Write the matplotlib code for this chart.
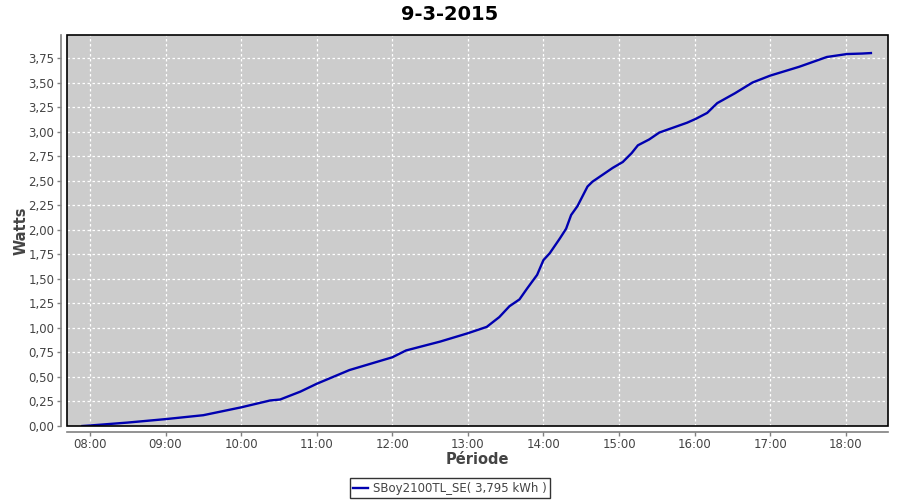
import numpy as np
import matplotlib
matplotlib.use("Agg")
import matplotlib.pyplot as plt
from matplotlib.patches import Rectangle
from matplotlib.ticker import FuncFormatter, FixedLocator

title = "9-3-2015"
series_name = "SBoy2100TL_SE( 3,795 kWh )"

# time of day (HH:MM) and cumulative production
times = ["07:54", "08:00", "08:30", "09:00", "09:30", "10:00", "10:23", "10:31",
         "10:47", "11:00", "11:26", "12:00", "12:11", "12:38", "13:00", "13:15",
         "13:25", "13:33", "13:41", "13:47", "13:55", "14:00", "14:05", "14:13",
         "14:18", "14:22", "14:27", "14:35", "14:39", "14:47", "14:55", "15:03",
         "15:10", "15:15", "15:24", "15:32", "15:43", "15:54", "16:01", "16:10",
         "16:18", "16:32", "16:46", "17:00", "17:23", "17:45", "18:01", "18:13",
         "18:20"]
watts = [0.00, 0.005, 0.035, 0.07, 0.11, 0.19, 0.26, 0.27,
         0.35, 0.43, 0.57, 0.70, 0.77, 0.86, 0.945, 1.01,
         1.11, 1.22, 1.29, 1.40, 1.54, 1.69, 1.76, 1.91,
         2.01, 2.15, 2.24, 2.44, 2.49, 2.56, 2.63, 2.69,
         2.78, 2.86, 2.92, 2.99, 3.04, 3.09, 3.13, 3.19,
         3.29, 3.39, 3.50, 3.57, 3.66, 3.76, 3.79, 3.795,
         3.80]
hour_ticks = list(range(8, 19))
watt_ticks = list(np.arange(0, 4.0, 0.25))

hours = [int(t[:2]) + int(t[3:]) / 60 for t in times]

fig = plt.figure(figsize=(9, 5), dpi=100)
ax = fig.add_axes([0.0744, 0.148, 0.912, 0.782])
ax.set_facecolor("#cccccc")

ax.plot(hours, watts, color="#0000b0", linewidth=1.7, zorder=3)

ax.set_xlim(7.696, 18.556)
ax.set_ylim(0, 3.984)

ax.xaxis.set_major_locator(FixedLocator(hour_ticks))
ax.yaxis.set_major_locator(FixedLocator(watt_ticks))
ax.xaxis.set_major_formatter(FuncFormatter(lambda v, p: f"{int(round(v)):02d}:00"))
ax.yaxis.set_major_formatter(FuncFormatter(lambda v, p: f"{v:.2f}".replace(".", ",")))

ax.grid(True, color="white", linestyle=(0, (2, 2)), linewidth=0.9, zorder=1)
ax.set_axisbelow(True)

# detached axis lines like the original
for side in ("top", "right"):
    ax.spines[side].set_visible(False)
for side in ("left", "bottom"):
    ax.spines[side].set_position(("outward", 4))
    ax.spines[side].set_color("#808080")
    ax.spines[side].set_linewidth(1.2)
ax.add_patch(Rectangle((0, 0), 1, 1, transform=ax.transAxes, fill=False,
                       edgecolor="black", linewidth=1.2, zorder=4, clip_on=False))

ax.tick_params(axis="both", colors="#808080", labelcolor="#444444",
               labelsize=8.5, length=3, width=1, pad=2)

ax.set_xlabel("Période", fontsize=10.5, fontweight="bold", color="#444444")
ax.set_ylabel("Watts", fontsize=10.5, fontweight="bold", color="#444444")
ax.xaxis.set_label_coords(0.5, -0.066)
ax.yaxis.set_label_coords(-0.047, 0.5)
fig.suptitle(title, x=0.5, y=0.99, fontsize=14, fontweight="bold")

leg = fig.legend([ax.lines[0]], [series_name], loc="lower center",
                 bbox_to_anchor=(0.5, 0.0), fontsize=8.5, frameon=True,
                 fancybox=False, handlelength=1.3, handletextpad=0.4,
                 borderpad=0.3, borderaxespad=0.15)
leg.get_frame().set_edgecolor("black")
leg.get_frame().set_linewidth(1.0)
for t in leg.get_texts():
    t.set_color("#444444")

fig.savefig("out.png", dpi=100)
